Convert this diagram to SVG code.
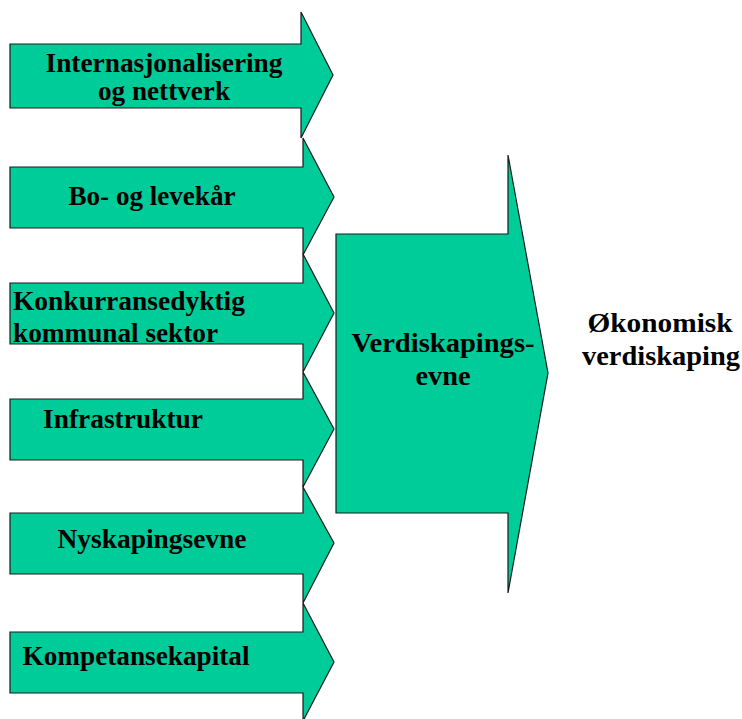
<svg xmlns="http://www.w3.org/2000/svg" width="742" height="719" viewBox="0 0 742 719">
<style>
.a{fill:#00CC99;stroke:#1a1a1a;stroke-width:1.2;stroke-linejoin:miter}
text{font-family:'Liberation Serif','Times New Roman',serif;font-weight:700;font-size:27px;fill:#000}
.c{text-anchor:middle}
</style>
<rect width="742" height="719" fill="#fff"/>
<g id="n1"><path class="a" d="M10,44 H301 V12 L333,75 L301,138 V108 H10 Z"/>
<text class="c" x="164" y="72" textLength="237" lengthAdjust="spacingAndGlyphs">Internasjonalisering</text><text class="c" x="164" y="100" textLength="132" lengthAdjust="spacingAndGlyphs">og nettverk</text></g>
<g id="n2"><path class="a" d="M10,167 H303 V138 L334,197 L303,255 V228 H10 Z"/>
<text class="c" x="152" y="205" textLength="167" lengthAdjust="spacingAndGlyphs">Bo- og levekår</text></g>
<g id="n3"><path class="a" d="M10,283 H303 V254 L334,313 L303,372 V344 H10 Z"/>
<text x="13" y="310" textLength="232" lengthAdjust="spacingAndGlyphs">Konkurransedyktig</text><text x="13" y="342" textLength="205" lengthAdjust="spacingAndGlyphs">kommunal sektor</text></g>
<g id="n4"><path class="a" d="M10,399 H303 V372 L334,429 L303,487 V460 H10 Z"/>
<text class="c" x="123" y="428" textLength="160" lengthAdjust="spacingAndGlyphs">Infrastruktur</text></g>
<g id="n5"><path class="a" d="M10,513 H303 V487 L334,543 L303,603 V574 H10 Z"/>
<text class="c" x="152" y="548" textLength="189" lengthAdjust="spacingAndGlyphs">Nyskapingsevne</text></g>
<g id="n6"><path class="a" d="M10,632 H303 V603 L334,662 L303,721 V693 H10 Z"/>
<text class="c" x="136" y="665" textLength="227" lengthAdjust="spacingAndGlyphs">Kompetansekapital</text></g>
<g id="n7"><path class="a" d="M336,234 H508 V155 L548,373 L508,593 V513 H336 Z"/>
<text class="c" x="443" y="352" textLength="183" lengthAdjust="spacingAndGlyphs">Verdiskapings-</text><text class="c" x="443" y="385" textLength="55" lengthAdjust="spacingAndGlyphs">evne</text></g>
<g id="n8"><text class="c" x="660" y="332" textLength="145" lengthAdjust="spacingAndGlyphs">Økonomisk</text><text class="c" x="661" y="365" textLength="158" lengthAdjust="spacingAndGlyphs">verdiskaping</text></g>
<g id="connectors"></g>
</svg>
